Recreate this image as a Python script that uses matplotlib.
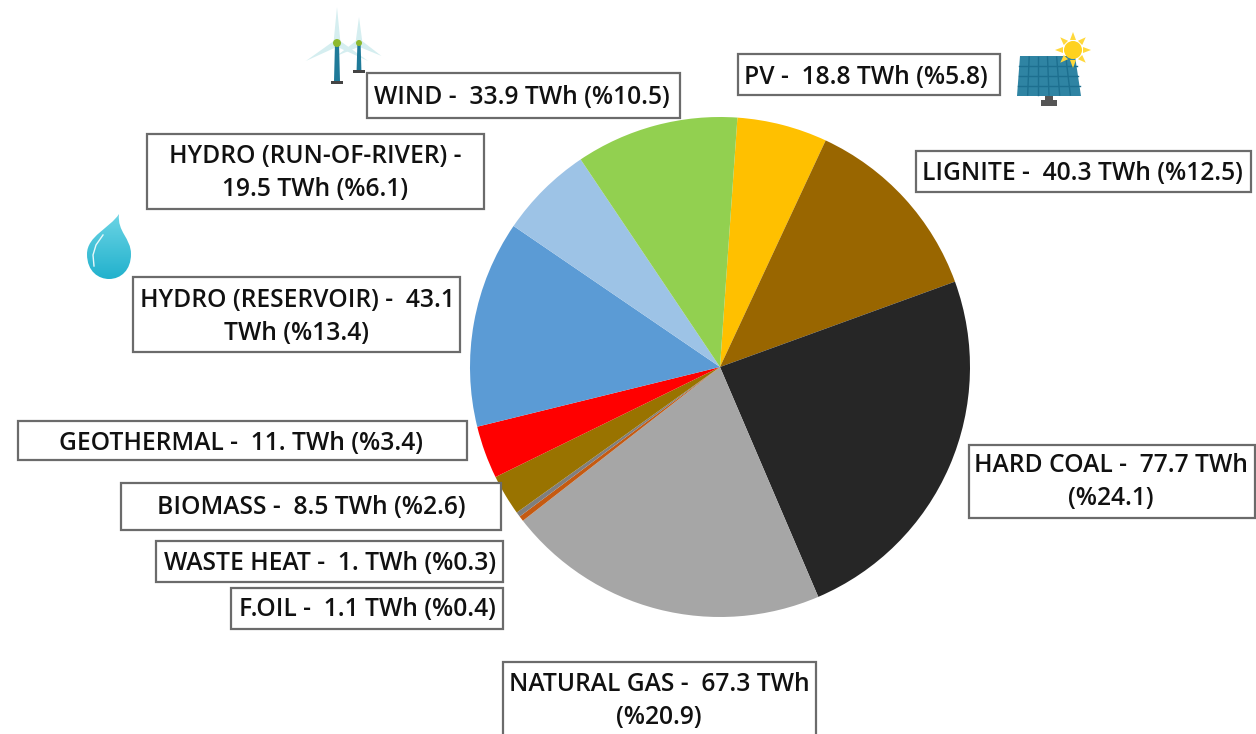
import numpy as np
import matplotlib
matplotlib.use('Agg')
import matplotlib.pyplot as plt
from matplotlib.patches import Rectangle, Polygon, Circle, PathPatch
from matplotlib.path import Path

W = 1256
H = 734

sources = ['PV', 'LIGNITE', 'HARD COAL', 'NATURAL GAS', 'F.OIL', 'WASTE HEAT',
           'BIOMASS', 'GEOTHERMAL', 'HYDRO (RESERVOIR)', 'HYDRO (RUN-OF-RIVER)', 'WIND']
twh = [18.8, 40.3, 77.7, 67.3, 1.1, 1.0, 8.5, 11.0, 43.1, 19.5, 33.9]
colors = ['#FFC000', '#996600', '#262626', '#A6A6A6', '#C55A11', '#7F7F7F',
          '#997300', '#FF0000', '#5B9BD5', '#9DC3E6', '#92D050']
labels = ['PV -  18.8 TWh (%5.8)', 'LIGNITE -  40.3 TWh (%12.5)',
          'HARD COAL -  77.7 TWh\n(%24.1)', 'NATURAL GAS -  67.3 TWh\n(%20.9)',
          'F.OIL -  1.1 TWh (%0.4)', 'WASTE HEAT -  1. TWh (%0.3)',
          'BIOMASS -  8.5 TWh (%2.6)', 'GEOTHERMAL -  11. TWh (%3.4)',
          'HYDRO (RESERVOIR) -  43.1\nTWh (%13.4)',
          'HYDRO (RUN-OF-RIVER) -\n19.5 TWh (%6.1)', 'WIND -  33.9 TWh (%10.5)']
# label boxes in pixels: left, top, right, bottom
boxes = [(738, 54, 1000, 95), (916, 151, 1251, 192), (969, 445, 1255, 518),
         (503, 662, 816, 745), (231, 588, 503, 629), (156, 541, 503, 582),
         (121, 483, 501, 530), (18, 421, 467, 460), (133, 277, 460, 352),
         (147, 134, 484, 209), (367, 73, 680, 118)]
# text centres in pixels
text_x = [866, 1082, 1111, 659, 367, 330, 311, 241, 297, 315, 522]
text_y = [77, 174, 482, 701, 610, 564, 508, 443, 317, 173, 98]

plt.rcParams['font.family'] = ['Open Sans', 'DejaVu Sans']

fig = plt.figure(figsize=(W / 100, H / 100), dpi=100)
ax = fig.add_axes([0, 0, 1, 1])


def py(y):
    return H - y


ax.pie(twh, colors=colors, startangle=86, counterclock=False,
       center=(720, py(367)), radius=250, frame=True)
ax.set_xlim(0, W)
ax.set_ylim(0, H)
ax.set_aspect('equal')
ax.axis('off')

for lab, (l, t, r, b), tx, ty in zip(labels, boxes, text_x, text_y):
    ax.add_patch(Rectangle((l, py(b)), r - l, b - t, fc='white', ec='#6b6b6b',
                           lw=1.6, zorder=3))
    ax.text(tx, py(ty), lab, ha='center', va='center', fontsize=17.7,
            fontweight='semibold', color='#111111', zorder=4, linespacing=1.4)


# icons
def poly(pts, c, z=2, alpha=1):
    ax.add_patch(Polygon([(x, py(y)) for x, y in pts], closed=True, fc=c, ec='none',
                         zorder=z, alpha=alpha))


def turbine(x, y, blade, base, w, hub):
    for a in (90, 210, 330):
        dx, dy = np.cos(np.radians(a)), -np.sin(np.radians(a))
        nx, ny = -dy, dx
        poly([(x + nx * 3.5, y + ny * 3.5), (x + dx * blade, y + dy * blade),
              (x - nx * 3.5, y - ny * 3.5)], '#D5EEF0', 1)
    poly([(x - w, y), (x + w, y), (x + w * 1.5, base), (x - w * 1.5, base)], '#1F7A99', 2)
    poly([(x - 6, base), (x + 6, base), (x + 6, base + 3), (x - 6, base + 3)], '#444444', 2)
    ax.add_patch(Circle((x, py(y)), hub, fc='#8DB92E', ec='none', zorder=3))


turbine(359, 43, 26, 70, 1.6, 3)
turbine(337, 43, 36, 81, 2, 4)

# panel with sun
poly([(1020, 56), (1075, 56), (1081, 96), (1017, 96)], '#2F84A3', 2)
for i in range(1, 6):
    f = i / 6
    ax.plot([1020 + 55 * f, 1017 + 64 * f], [py(57), py(95)],
            color='#1D6F8F', lw=1, zorder=2)
for i in range(1, 4):
    f = i / 4
    ax.plot([1020 - 3 * f, 1075 + 6 * f], [py(56 + 40 * f)] * 2, color='#1D6F8F', lw=1, zorder=2)
poly([(1045, 96), (1053, 96), (1053, 101), (1045, 101)], '#555555', 2)
poly([(1041, 100), (1057, 100), (1057, 106), (1041, 106)], '#555555', 2)

sun_x, sun_y = 1073, 50
for a in range(0, 360, 45):
    dx, dy = np.cos(np.radians(a)), np.sin(np.radians(a))
    nx, ny = -dy, dx
    poly([(sun_x + dx * 10 + nx * 3, sun_y + dy * 10 + ny * 3),
          (sun_x + dx * 18, sun_y + dy * 18),
          (sun_x + dx * 10 - nx * 3, sun_y + dy * 10 - ny * 3)], '#FFD83A', 2.5)
ax.add_patch(Circle((sun_x, py(sun_y)), 9, fc='#FFD21F', ec='none', zorder=2.6))

# water drop
drop = Path([(119, py(214)), (110, py(228)), (87, py(236)), (87, py(254)),
             (87, py(272)), (99, py(279)), (109, py(279)),
             (121, py(279)), (131, py(270)), (131, py(254)),
             (131, py(238)), (117, py(232)), (119, py(214)), (119, py(214))],
            [Path.MOVETO, Path.CURVE4, Path.CURVE4, Path.CURVE4,
             Path.CURVE4, Path.CURVE4, Path.CURVE4,
             Path.CURVE4, Path.CURVE4, Path.CURVE4,
             Path.CURVE4, Path.CURVE4, Path.CURVE4, Path.CLOSEPOLY])
patch = PathPatch(drop, fc='none', ec='none', zorder=2)
ax.add_patch(patch)
grad = np.linspace(0, 1, 64)[:, None]
cmap = matplotlib.colors.LinearSegmentedColormap.from_list('d', ['#6FD6E6', '#1FB0CC'])
im = ax.imshow(grad, extent=(80, 135, py(282), py(210)), cmap=cmap, zorder=2, aspect='auto',
               origin='upper')
im.set_clip_path(patch)
ax.plot([94, 93, 96, 103], [py(266), py(255), py(245), py(235)], color='#E8F8FA', lw=1, zorder=3)
ax.set_xlim(0, W)
ax.set_ylim(0, H)

fig.savefig('out.png', dpi=100, facecolor='white')
